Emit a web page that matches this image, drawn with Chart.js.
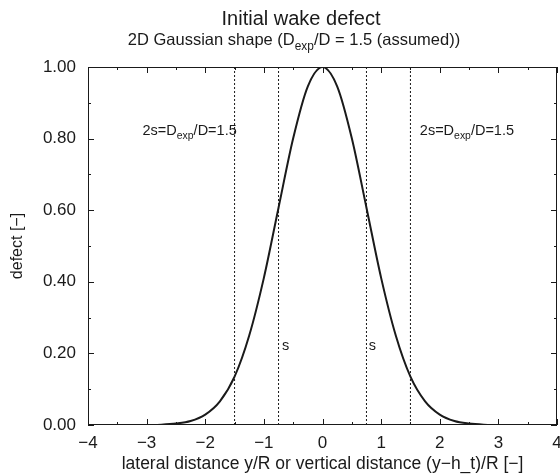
<!DOCTYPE html>
<html>
<head>
<meta charset="utf-8">
<script src="https://cdn.jsdelivr.net/npm/chart.js@4.4.0/dist/chart.umd.min.js"></script>
<style>
  html, body { margin: 0; padding: 0; background: #fff; }
  #wrap { width: 560px; height: 476px; }
</style>
</head>
<body>
<div id="wrap"><canvas id="wake"></canvas></div>
<script>
// wake defect profile along the lateral position y/R
var xPos = [-3, -2.75, -2.5, -2.25, -2, -1.75, -1.5, -1.25, -1, -0.75, -0.5, -0.25, 0,
            0.25, 0.5, 0.75, 1, 1.25, 1.5, 1.75, 2, 2.25, 2.5, 2.75, 3];
var defect = [0.000, 0.001, 0.004, 0.011, 0.029, 0.066, 0.135, 0.250, 0.411, 0.607, 0.801, 0.946, 1.000,
              0.946, 0.801, 0.607, 0.411, 0.250, 0.135, 0.066, 0.029, 0.011, 0.004, 0.001, 0.000];

// dotted marker lines at +-s and +-2s
var sLines = [-0.75, 0.75];
var dLines = [-1.5, 1.5];

var xTicks = [-4, -3, -2, -1, 0, 1, 2, 3, 4];
var yTicks = [0, 0.2, 0.4, 0.6, 0.8, 1.0];

var FONT = '"Liberation Sans", Arial, sans-serif';
var INK = '#1a1a1a';

function vline(v) {
    return {
        data: [{x: v, y: 0}, {x: v, y: 1}],
        borderColor: INK,
        borderWidth: 1,
        borderDash: [2, 2],
        pointRadius: 0,
        fill: false
    };
}

// draws a run of text pieces, some of them as subscripts
function drawRich(ctx, x, y, parts, size, align) {
    ctx.save();
    ctx.textBaseline = 'alphabetic';
    ctx.textAlign = 'left';
    var total = 0;
    parts.forEach(function (p) {
        ctx.font = (p[1] ? size * 0.72 : size) + 'px ' + FONT;
        total += ctx.measureText(p[0]).width;
    });
    var cx = align === 'center' ? x - total / 2 : x;
    parts.forEach(function (p) {
        ctx.font = (p[1] ? size * 0.72 : size) + 'px ' + FONT;
        ctx.fillText(p[0], cx, p[1] ? y + size * 0.3 : y);
        cx += ctx.measureText(p[0]).width;
    });
    ctx.restore();
}

var framePlugin = {
    id: 'frame',
    afterDatasetsDraw: function (chart) {
        var ctx = chart.ctx, a = chart.chartArea;
        var xs = chart.scales.x, ys = chart.scales.y;
        ctx.save();
        ctx.strokeStyle = INK;
        ctx.lineWidth = 1;
        ctx.strokeRect(a.left + 0.5, a.top + 0.5, a.right - a.left - 1, a.bottom - a.top - 1);
        ctx.beginPath();
        // inward ticks on all four sides
        for (var v = -4; v <= 4.001; v += 0.5) {
            var px = Math.round(xs.getPixelForValue(v)) + 0.5;
            var len = Math.abs(v % 1) < 0.01 ? 6 : 3;
            ctx.moveTo(px, a.bottom); ctx.lineTo(px, a.bottom - len);
            ctx.moveTo(px, a.top); ctx.lineTo(px, a.top + len);
        }
        for (var k = 0; k <= 10; k++) {
            var py = Math.round(ys.getPixelForValue(k / 10)) + 0.5;
            var l = k % 2 === 0 ? 6 : 3;
            ctx.moveTo(a.left, py); ctx.lineTo(a.left + l, py);
            ctx.moveTo(a.right, py); ctx.lineTo(a.right - l, py);
        }
        ctx.stroke();
        ctx.restore();

        ctx.save();
        ctx.fillStyle = INK;
        // annotations placed in data coordinates
        var lab = [['2s=D', false], ['exp', true], ['/D=1.5', false]];
        drawRich(ctx, xs.getPixelForValue(-3.07), ys.getPixelForValue(0.81), lab, 14.5);
        drawRich(ctx, xs.getPixelForValue(1.66), ys.getPixelForValue(0.81), lab, 14.5);
        drawRich(ctx, xs.getPixelForValue(-0.69), ys.getPixelForValue(0.21), [['s', false]], 14.5);
        drawRich(ctx, xs.getPixelForValue(0.79), ys.getPixelForValue(0.21), [['s', false]], 14.5);

        // titles
        drawRich(ctx, 301, 25, [['Initial wake defect', false]], 20, 'center');
        drawRich(ctx, 294, 45, [['2D Gaussian shape (D', false], ['exp', true], ['/D = 1.5 (assumed))', false]], 16.5, 'center');
        ctx.restore();
    }
};

var datasets = [{
    data: xPos.map(function (x, i) { return {x: x, y: defect[i]}; }),
    borderColor: INK,
    borderWidth: 2,
    pointRadius: 0,
    cubicInterpolationMode: 'monotone',
    fill: false
}];
sLines.concat(dLines).forEach(function (v) { datasets.push(vline(v)); });

new Chart(document.getElementById('wake'), {
    type: 'line',
    data: { datasets: datasets },
    options: {
        responsive: true,
        maintainAspectRatio: false,
        animation: false,
        layout: { padding: { top: 67, right: 3, left: 0, bottom: 0 } },
        plugins: { legend: { display: false }, tooltip: { enabled: false } },
        scales: {
            x: {
                type: 'linear',
                min: -4, max: 4,
                afterFit: function (s) { s.height = 51; s.paddingRight = 0; s.paddingLeft = 0; },
                afterBuildTicks: function (s) { s.ticks = xTicks.map(function (v) { return {value: v}; }); },
                grid: { display: false, drawTicks: false },
                border: { display: false },
                ticks: {
                    padding: 8,
                    color: INK,
                    font: { family: FONT, size: 17 },
                    maxRotation: 0,
                    callback: function (v) { return v < 0 ? '\u2212' + Math.abs(v) : String(v); }
                },
                title: {
                    display: true,
                    text: 'lateral distance y/R or vertical distance (y\u2212h_t)/R [\u2212]',
                    color: INK,
                    font: { family: FONT, size: 17.5 },
                    padding: { top: 0, bottom: 1 }
                }
            },
            y: {
                type: 'linear',
                min: 0, max: 1,
                afterFit: function (s) { s.width = 88; s.paddingTop = 0; s.paddingBottom = 0; },
                afterBuildTicks: function (s) { s.ticks = yTicks.map(function (v) { return {value: v}; }); },
                grid: { display: false, drawTicks: false },
                border: { display: false },
                ticks: {
                    padding: 12,
                    color: INK,
                    font: { family: FONT, size: 17 },
                    callback: function (v) { return Number(v).toFixed(2); }
                },
                title: {
                    display: true,
                    text: 'defect [\u2212]',
                    color: INK,
                    font: { family: FONT, size: 16 },
                    padding: { top: 8, bottom: 0 }
                }
            }
        }
    },
    plugins: [framePlugin]
});
</script>
</body>
</html>
